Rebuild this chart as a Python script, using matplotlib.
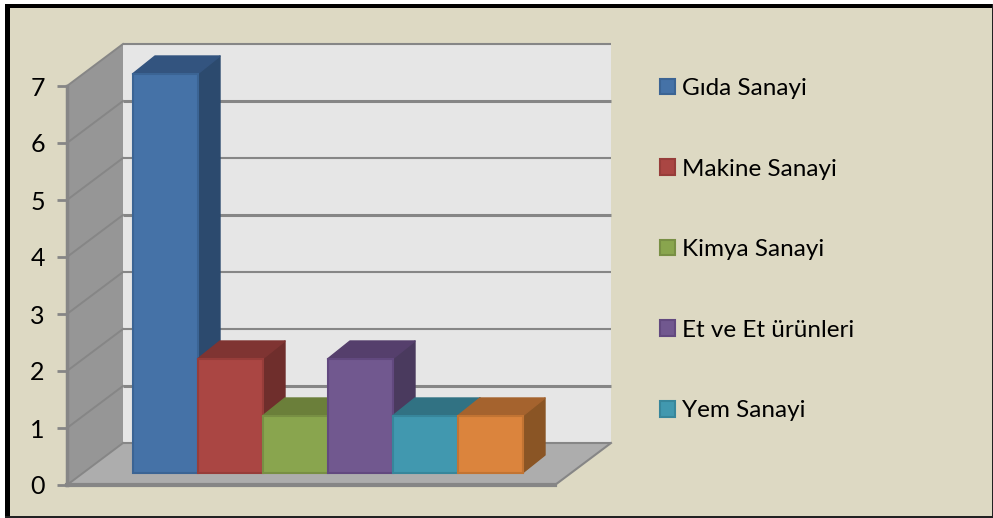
import matplotlib
matplotlib.use('Agg')
from matplotlib import pyplot as plt
from matplotlib.patches import Patch, Polygon, Rectangle

labels = ['Gıda Sanayi', 'Makine Sanayi', 'Kimya Sanayi', 'Et ve Et ürünleri', 'Yem Sanayi']
values = [7, 2, 1, 2, 1, 1]
front = ['#4572a7', '#aa4643', '#89a54e', '#71588f', '#4198af', '#db843d']
edge = ['#3b6494', '#973d3a', '#788f44', '#62497f', '#37869b', '#c27433']
top = ['#33547f', '#7f3432', '#6b7f3a', '#553f6c', '#317283', '#a5632e']
side = ['#2c4a6e', '#6f2e2c', '#5c6e32', '#4a3a5e', '#2b6373', '#8a5525']
yticks = [0, 1, 2, 3, 4, 5, 6, 7]
grid_lw = [1.5, 2.2, 1.5, 1.5, 2.2, 1.5, 2.2, 1.5]

W, H = 993, 518
BG = '#ddd9c3'

fig = plt.figure(figsize=(W / 100, H / 100), dpi=100, facecolor='white')
# frame
def frame(x, y, w, h, c):
    fig.add_artist(Rectangle((x / W, 1 - (y + h) / H), w / W, h / H, transform=fig.transFigure, fc=c, ec='none',
                             zorder=-1))


frame(7, 6, W - 7, H - 6, BG)
frame(5, 4, 5, H - 4, 'black')
frame(5, 4, W - 5, 4, 'black')
frame(5, H - 2, W - 5, 2, '#222222')
frame(W - 1, 4, 1, H - 4, '#222222')

# the axes is the front plane of the 3d box, one x unit is one bar wide
L, R, T, B = 67, 555, 86, 485
ax = fig.add_axes([L / W, 1 - B / H, (R - L) / W, (B - T) / H])
bar_w = 65
unit = (B - T) / 7
ax.set_xlim(0, (R - L) / bar_w)
ax.set_ylim(0, 7)
ax.patch.set_alpha(0)
for s in ax.spines.values():
    s.set_visible(False)
ax.set_xticks([])
ax.set_yticks(yticks)
ax.tick_params(axis='y', length=7, width=2, color='#868686', pad=9)
for t in ax.get_yticklabels():
    t.set_fontfamily('Lato')
    t.set_fontsize(18)
    t.set_color('black')


def dx(px):
    return px / bar_w


def dy(px):
    return px / unit


def poly(pts, fc, ec='none', lw=0, z=2):
    ax.add_patch(Polygon(pts, closed=True, fc=fc, ec=ec, lw=lw, zorder=z, clip_on=False, joinstyle='round'))


xmax = (R - L) / bar_w
wx, wy = dx(56), dy(42)
# walls and floor
poly([(wx, wy), (xmax + wx, wy), (xmax + wx, 7 + wy), (wx, 7 + wy)], '#e6e6e6', z=1)
poly([(0, 0), (wx, wy), (wx, 7 + wy), (0, 7)], '#969696', z=1)
poly([(0, 0), (wx, wy), (xmax + wx, wy), (xmax, 0)], '#adadad', z=1)
for v, lw in zip(yticks, grid_lw):
    ax.plot([wx, xmax + wx], [v + wy, v + wy], color='#868686', lw=lw, zorder=1.5, clip_on=False,
            solid_capstyle='butt')
    ax.plot([0, wx], [v, v + wy], color='#868686', lw=1.4, zorder=1.5, clip_on=False)
ax.plot([0, 0], [0, 7], color='#868686', lw=2.5, zorder=1.5, clip_on=False)
ax.plot([0, xmax], [0, 0], color='#868686', lw=3, zorder=1.5, clip_on=False)
ax.plot([xmax, xmax + wx], [0, wy], color='#868686', lw=1.5, zorder=1.5, clip_on=False)

# bars, left to right so each one overlaps the previous
x0 = dx(132.5 - L)
base = dy(12)
bx, by = dx(22.5), dy(18)
for i, v in enumerate(values):
    z = 3 + i
    xl = x0 + i
    xr = xl + 1
    yb = base
    yt = base + v
    poly([(xr, yb), (xr + bx, yb + by), (xr + bx, yt + by), (xr, yt)], side[i], side[i], 1, z)
    poly([(xl, yt), (xl + bx, yt + by), (xr + bx, yt + by), (xr, yt)], top[i], top[i], 1, z)
    ax.bar(xl, v, width=1, bottom=yb, align='edge', color=front[i], edgecolor=edge[i], lw=1.5, zorder=z + 0.5,
           clip_on=False)

handles = [Patch(fc=front[i], ec=edge[i], lw=1.5) for i in range(len(labels))]
leg = fig.legend(handles, labels, loc='upper left', bbox_to_anchor=(660 / W, 1 - 78 / H), frameon=False,
                 prop={'family': 'Lato', 'size': 17.5}, handlelength=0.62, handleheight=0.62, handletextpad=0.3,
                 labelspacing=2.45, borderpad=0, borderaxespad=0)

fig.savefig('out.png', dpi=100, facecolor=fig.get_facecolor())
